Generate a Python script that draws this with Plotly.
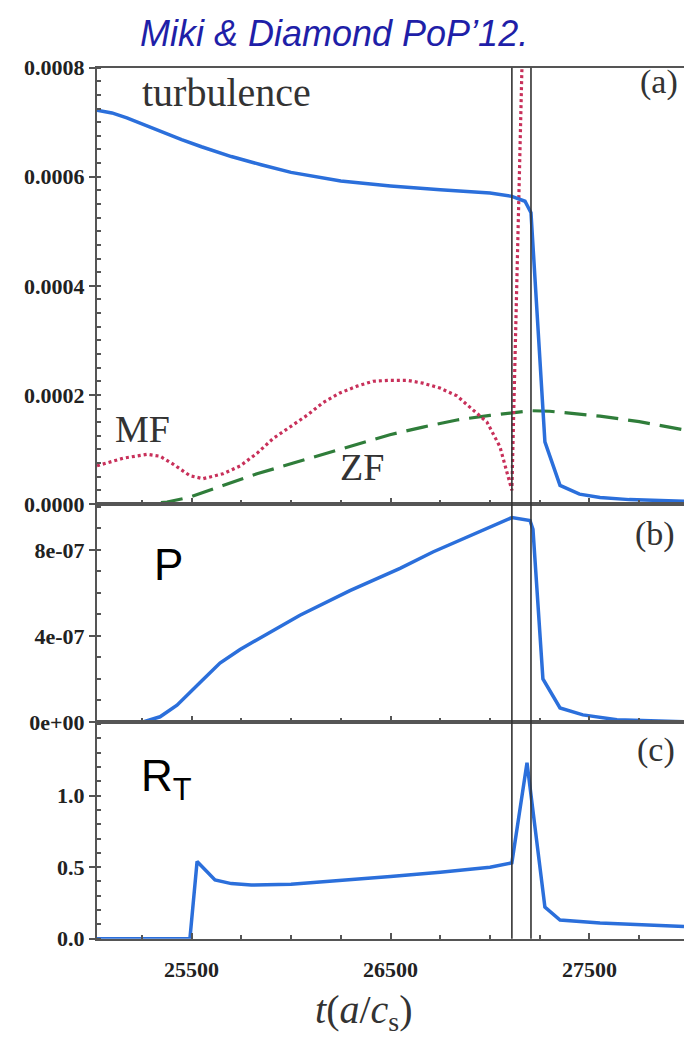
import plotly.graph_objects as go

# ---------------- data ----------------
turb_t = [25025, 25100, 25175, 25250, 25350, 25450, 25550, 25700, 25850, 26000, 26250, 26500,
          26750, 27000, 27110, 27176, 27206, 27276, 27352, 27450, 27553, 27700, 27975]
turb_v = [7.22e-4, 7.17e-4, 7.08e-4, 6.97e-4, 6.82e-4, 6.68e-4, 6.55e-4, 6.37e-4, 6.22e-4, 6.08e-4,
          5.92e-4, 5.83e-4, 5.76e-4, 5.70e-4, 5.64e-4, 5.55e-4, 5.34e-4, 1.14e-4, 0.34e-4, 0.18e-4,
          0.12e-4, 0.08e-4, 0.05e-4]

mf_t = [25025, 25156, 25276, 25342, 25407, 25492, 25558, 25658, 25744, 25829, 25909, 25995, 26080,
        26161, 26246, 26332, 26412, 26497, 26583, 26663, 26749, 26834, 26914, 26985, 27050, 27090,
        27110, 27186]
mf_v = [7.0e-5, 8.39e-5, 9.11e-5, 8.75e-5, 7.32e-5, 5.18e-5, 4.64e-5, 5.54e-5, 6.97e-5, 9.29e-5,
        11.97e-5, 14.11e-5, 16.25e-5, 18.57e-5, 20.36e-5, 21.61e-5, 22.5e-5, 22.68e-5, 22.68e-5,
        22.15e-5, 21.25e-5, 19.82e-5, 17.32e-5, 15.0e-5, 10.5e-5, 5.18e-5, 2.5e-5, 119e-5]

zf_t = [25025, 25291, 25377, 25492, 25658, 25829, 25995, 26161, 26332, 26497, 26663, 26834, 27000,
        27206, 27300, 27553, 27750, 27975]
zf_v = [0.0, 0.05e-5, 0.36e-5, 1.25e-5, 3.39e-5, 5.54e-5, 7.32e-5, 9.11e-5, 10.9e-5, 12.7e-5,
        14.1e-5, 15.4e-5, 16.25e-5, 17.1e-5, 17.0e-5, 16.1e-5, 15.1e-5, 13.6e-5]

p_t = [25025, 25256, 25342, 25427, 25543, 25643, 25744, 25879, 26045, 26296, 26548, 26713, 26884,
       27050, 27110, 27201, 27216, 27266, 27352, 27467, 27638, 27975]
p_v = [0.0, 0.0, 0.24e-7, 0.78e-7, 1.83e-7, 2.74e-7, 3.37e-7, 4.1e-7, 4.96e-7, 6.1e-7, 7.14e-7,
       7.9e-7, 8.6e-7, 9.27e-7, 9.5e-7, 9.36e-7, 8.95e-7, 2.0e-7, 0.65e-7, 0.33e-7, 0.1e-7, 0.01e-7]

rt_t = [25025, 25492, 25528, 25618, 25700, 25800, 26000, 26250, 26500, 26750, 27000, 27110, 27186,
        27276, 27352, 27553, 27975]
rt_v = [0.0, 0.0, 0.54, 0.41, 0.385, 0.375, 0.38, 0.405, 0.435, 0.465, 0.50, 0.53, 1.23,
        0.22, 0.13, 0.11, 0.085]

vlines_t = [27110, 27206]

x_ticks = [25500, 26500, 27500]
x_ticklabels = ["25500", "26500", "27500"]
ya_ticks = [0, 0.0002, 0.0004, 0.0006, 0.0008]
ya_labels = ["0.0000", "0.0002", "0.0004", "0.0006", "0.0008"]
yb_ticks = [0, 4e-7, 8e-7]
yb_labels = ["0e+00", "4e-07", "8e-07"]
yc_ticks = [0, 0.5, 1.0]
yc_labels = ["0.0", "0.5", "1.0"]

# ---------------- layout geometry ----------------
W, H = 684, 1049
def px(x):
    return x / W
def py(y):
    return 1 - y / H

BLUE = "#2b6fdb"
RED = "#c8305a"
GREEN = "#2f7d3a"
AXC = "#555555"

fig = go.Figure()
fig.add_trace(go.Scatter(x=zf_t, y=zf_v, mode="lines", xaxis="x", yaxis="y",
                         line=dict(color=GREEN, width=3.2, dash="22px,10px"), showlegend=False))
fig.add_trace(go.Scatter(x=mf_t, y=mf_v, mode="lines", xaxis="x", yaxis="y",
                         line=dict(color=RED, width=3.2, dash="3px,3px"), showlegend=False))
fig.add_trace(go.Scatter(x=turb_t, y=turb_v, mode="lines", xaxis="x", yaxis="y",
                         line=dict(color=BLUE, width=3.5), showlegend=False))
fig.add_trace(go.Scatter(x=p_t, y=p_v, mode="lines", xaxis="x2", yaxis="y2",
                         line=dict(color=BLUE, width=3.5), showlegend=False))
fig.add_trace(go.Scatter(x=rt_t, y=rt_v, mode="lines", xaxis="x3", yaxis="y3",
                         line=dict(color=BLUE, width=3.5), showlegend=False))

xdom = [px(97), 1.0]
xrange_ = [25025, 27975]
tickfont = dict(family="Liberation Serif", size=22, color="#222", weight="bold")

def xaxis(anchor, labels):
    return dict(domain=xdom, range=xrange_, anchor=anchor, showgrid=False, zeroline=False,
                showline=True, linecolor=AXC, linewidth=2, mirror=True,
                tickvals=x_ticks, ticktext=x_ticklabels, showticklabels=labels,
                ticks="inside", ticklen=6, tickcolor=AXC, tickwidth=1.5, ticklabelstandoff=10,
                minor=dict(dtick=250, ticks="inside", ticklen=4, tickcolor=AXC, showgrid=False),
                tickfont=tickfont)

def yaxis(anchor, dom, rng, tv, tt, mdt):
    return dict(domain=dom, range=rng, anchor=anchor, showgrid=False, zeroline=False,
                showline=True, linecolor=AXC, linewidth=2,
                tickvals=tv, ticktext=tt, ticks="outside", ticklen=6, tickcolor=AXC, tickwidth=1.5,
                minor=dict(dtick=mdt, ticks="inside", ticklen=4, tickcolor=AXC, showgrid=False),
                tickfont=tickfont)

fig.update_layout(
    width=W, height=H, margin=dict(l=0, r=0, t=0, b=0),
    paper_bgcolor="white", plot_bgcolor="white",
    xaxis=xaxis("y", False),
    xaxis2=xaxis("y2", False),
    xaxis3=xaxis("y3", True),
    yaxis=yaxis("x", [py(504), py(57)], [0, 0.0008], ya_ticks, ya_labels, 0.000025),
    yaxis2=yaxis("x2", [py(727.3), py(504)], [0, 1.013e-6], yb_ticks, yb_labels, 1e-7),
    yaxis3=yaxis("x3", [py(949.3), py(727.3)], [0, 1.515], yc_ticks, yc_labels, 0.1),
)

for t in vlines_t:
    fig.add_shape(type="line", xref="x", yref="paper", x0=t, x1=t, y0=py(949.3), y1=py(57),
                  line=dict(color="#333", width=1.6))

serif = "Liberation Serif"
sans = "Liberation Sans"
anns = [
    dict(x=px(334), y=py(22), text="<i>Miki &amp; Diamond PoP’12.</i>",
         font=dict(family=sans, size=36, color="#1f1fa8")),
    dict(x=px(226), y=py(82), text="turbulence", font=dict(family=serif, size=40, color="#333")),
    dict(x=px(659), y=py(72), text="(a)", font=dict(family=serif, size=34, color="#333")),
    dict(x=px(655), y=py(535), text="(b)", font=dict(family=serif, size=34, color="#333")),
    dict(x=px(656), y=py(756), text="(c)", font=dict(family=serif, size=34, color="#333")),
    dict(x=px(142), y=py(427), text="MF", font=dict(family=serif, size=38, color="#333")),
    dict(x=px(362), y=py(466), text="ZF", font=dict(family=serif, size=38, color="#333")),
    dict(x=px(168), y=py(566), text="P", font=dict(family=sans, size=44, color="black")),
    dict(x=px(166), y=py(786), text="R<sub>T</sub>", font=dict(family=sans, size=44, color="black")),
    dict(x=px(364), y=py(1024), text="<i>t</i>(<i>a</i>/<i>c</i><sub>s</sub>)",
         font=dict(family=serif, size=40, color="#333")),
]
for a in anns:
    fig.add_annotation(xref="paper", yref="paper", showarrow=False, xanchor="center",
                       yanchor="middle", **a)

fig.write_html("out.html")
